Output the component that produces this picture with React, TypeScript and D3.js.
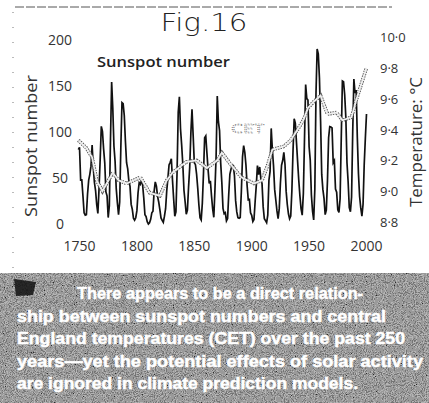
import React from 'react';
import * as d3 from 'd3';

// annual sunspot numbers, 1749 .. 2000
const sunStartYear = 1749;
const sunspots = [
    80.9, 83.4, 47.7, 47.8, 30.7, 12.2, 9.6, 10.2, 32.4, 47.6, 54.0, 62.9, 85.9, 61.2, 45.1, 36.4, 20.9, 11.4, 37.8, 69.8,
    106.1, 100.8, 81.6, 66.5, 34.8, 30.6, 7.0, 19.8, 92.5, 154.4, 125.9, 84.8, 68.1, 38.5, 22.8, 10.2, 24.1, 82.9, 132.0,
    130.9, 118.1, 89.9, 66.6, 60.0, 46.9, 41.0, 21.3, 16.0, 6.4, 4.1, 6.8, 14.5, 34.0, 45.0, 43.1, 47.5, 42.2, 28.1, 10.1,
    8.1, 2.5, 0.0, 1.4, 5.0, 12.2, 13.9, 35.4, 45.8, 41.1, 30.1, 23.9, 15.6, 6.6, 4.0, 1.8, 8.5, 16.6, 36.3, 49.6, 64.2,
    67.0, 70.9, 47.8, 27.5, 8.5, 13.2, 56.9, 121.5, 138.3, 103.2, 85.7, 64.6, 36.7, 24.2, 10.7, 15.0, 40.1, 61.5, 98.5,
    124.7, 96.3, 66.6, 64.5, 54.1, 39.0, 20.6, 6.7, 4.3, 22.7, 54.8, 93.8, 95.8, 77.2, 59.1, 44.0, 47.0, 30.5, 16.3, 7.3,
    37.6, 74.0, 139.0, 111.2, 101.6, 66.2, 44.7, 17.0, 11.3, 12.4, 3.4, 6.0, 32.3, 54.3, 59.7, 63.7, 63.5, 52.2, 25.4,
    13.1, 6.8, 6.3, 7.1, 35.6, 73.0, 85.1, 78.0, 64.0, 41.8, 26.2, 26.7, 12.1, 9.5, 2.7, 5.0, 24.4, 42.0, 63.5, 53.8, 62.0,
    48.5, 43.9, 18.6, 5.7, 3.6, 1.4, 9.6, 47.4, 57.1, 103.9, 80.6, 63.6, 37.6, 26.1, 14.2, 5.8, 16.7, 44.3, 63.9, 69.0,
    77.8, 64.9, 35.7, 21.2, 11.1, 5.7, 8.7, 36.1, 79.7, 114.4, 109.6, 88.8, 67.8, 47.5, 30.6, 16.3, 9.6, 33.2, 92.6,
    151.6, 136.3, 134.7, 83.9, 69.4, 31.5, 13.9, 4.4, 38.0, 141.7, 190.2, 184.8, 159.0, 112.3, 53.9, 37.6, 27.9, 10.2,
    15.1, 47.0, 93.8, 105.9, 105.5, 104.5, 66.6, 68.9, 38.0, 34.5, 15.5, 12.6, 27.5, 92.5, 155.4, 154.6, 140.5, 115.9,
    66.6, 45.9, 17.9, 13.4, 29.4, 100.2, 157.6, 142.6, 145.7, 94.3, 54.6, 29.9, 17.5, 8.6, 21.5, 64.3, 93.3, 119.6,
];

// central England temperature (smoothed)
const cetYears = [
    1749, 1756, 1761, 1765, 1770, 1779, 1784, 1791, 1803, 1811, 1820, 1826, 1831, 1843, 1852, 1861, 1870, 1874, 1881,
    1891, 1902, 1909, 1914, 1918, 1928, 1934, 1940, 1945, 1949, 1954, 1960, 1966, 1974, 1979, 1987, 1991, 2000,
];
const cetTemps = [
    9.33, 9.28, 9.22, 9.07, 9.0, 9.12, 9.07, 9.05, 9.09, 8.99, 8.97, 9.07, 9.12, 9.19, 9.2, 9.15, 9.2, 9.25, 9.18, 9.09,
    9.05, 9.07, 9.17, 9.27, 9.29, 9.33, 9.4, 9.46, 9.54, 9.58, 9.62, 9.5, 9.51, 9.46, 9.48, 9.59, 9.8,
];

const yearTicks = [1750, 1800, 1850, 1900, 1950, 2000];
const sunTicks = [0, 50, 100, 150, 200];
const tempTicks = [8.8, 9.0, 9.2, 9.4, 9.6, 9.8, 10.0];

const captionLines = [
    'There appears to be a direct relation-',
    'ship between sunspot numbers and central',
    'England temperatures (CET) over the past 250',
    'years\u2014yet the potential effects of solar activity',
    'are ignored in climate prediction models.',
];

const App = () => {
    const width = 429;
    const height = 403;

    const x = d3.scaleLinear().domain([1750, 2000]).range([79.5, 366.5]);
    const ySun = d3.scaleLinear().domain([0, 200]).range([224, 40]);
    const yTemp = d3.scaleLinear().domain([8.8, 10.0]).range([222, 37]);

    const sunLine = d3
        .line<number>()
        .x((d, i) => x(sunStartYear + i))
        .y((d) => ySun(d));

    const cetData = cetYears.map((yr, i) => [yr, cetTemps[i]] as [number, number]);
    const cetLine = d3
        .line<[number, number]>()
        .x((d) => x(d[0]))
        .y((d) => yTemp(d[1]));

    const tickFont = '"Open Sans", "DejaVu Sans", sans-serif';
    const fmtTemp = (t: number) => t.toFixed(1).replace('.', '\u00b7');

    // caption geometry
    const capLeft = [77, 17, 17, 17, 17];
    const capWidth = [286, 369, 388, 406, 341];

    return (
        <svg width={width} height={height} style={{position: 'absolute', left: 0, top: 0, background: '#fff'}}>
            <defs>
                <filter id="grain" x="0" y="0" width="100%" height="100%">
                    <feTurbulence type="fractalNoise" baseFrequency="1.1" numOctaves="2" seed="7" result="t" />
                    <feColorMatrix
                        in="t"
                        type="matrix"
                        values="0 0 0 1 0  0 0 0 1 0  0 0 0 1 0  0 0 0 0 1"
                        result="g"
                    />
                    <feComponentTransfer in="g">
                        <feFuncR type="discrete" tableValues="0 0.2 0.5 0.8 1" />
                        <feFuncG type="discrete" tableValues="0 0.2 0.5 0.8 1" />
                        <feFuncB type="discrete" tableValues="0 0.2 0.5 0.8 1" />
                    </feComponentTransfer>
                </filter>
            </defs>

            {/* scan edges */}
            <line x1={15} x2={392} y1={7} y2={7} stroke="#555" strokeWidth={1} strokeDasharray="9,2" />
            <line x1={13} x2={13} y1={12} y2={268} stroke="#777" strokeWidth={1} strokeDasharray="1,14" />

            {/* title */}
            <text
                x={204}
                y={31}
                textAnchor="middle"
                fontFamily='"DejaVu Sans", sans-serif'
                fontWeight={300}
                fontSize={24}
                fill="#222"
                textLength={87}
                lengthAdjust="spacingAndGlyphs"
            >
                Fig.16
            </text>

            {/* left axis */}
            {sunTicks.map((t) => (
                <text key={t} x={60} y={ySun(t) + 5} textAnchor="middle" fontFamily={tickFont} fontSize={14} fill="#333">
                    {t}
                </text>
            ))}
            <text
                transform={`translate(37,146) rotate(-90)`}
                textAnchor="middle"
                fontFamily={tickFont}
                fontSize={16}
                fill="#333"
                textLength={142}
                lengthAdjust="spacingAndGlyphs"
            >
                Sunspot number
            </text>

            {/* right axis */}
            {tempTicks.map((t) => (
                <text key={t} x={380} y={yTemp(t) + 5} textAnchor="start" fontFamily={tickFont} fontSize={13} fill="#333">
                    {fmtTemp(t)}
                </text>
            ))}
            <text
                transform={`translate(422,142) rotate(-90)`}
                textAnchor="middle"
                fontFamily={tickFont}
                fontSize={16}
                fill="#333"
                textLength={130}
                lengthAdjust="spacingAndGlyphs"
            >
                Temperature: °C
            </text>

            {/* bottom axis */}
            {yearTicks.map((t) => (
                <text key={t} x={x(t)} y={251} textAnchor="middle" fontFamily={tickFont} fontSize={14} fill="#333">
                    {t}
                </text>
            ))}

            {/* series */}
            <path d={sunLine(sunspots) || ''} fill="none" stroke="#111" strokeWidth={1.7} strokeLinejoin="miter" />
            <path d={cetLine(cetData) || ''} fill="none" stroke="#555" strokeWidth={3.6} strokeDasharray="1.5,1" />
            <path d={cetLine(cetData) || ''} fill="none" stroke="#eee" strokeWidth={1.8} />

            {/* in-plot labels */}
            <text
                x={97}
                y={67}
                fontFamily={tickFont}
                fontWeight={600}
                fontSize={15}
                fill="#222"
                textLength={133}
                lengthAdjust="spacingAndGlyphs"
            >
                Sunspot number
            </text>
            <text
                x={231}
                y={133}
                fontFamily={tickFont}
                fontSize={13}
                fill="#fff"
                stroke="#666"
                strokeWidth={0.6}
                strokeDasharray="1,1"
                textLength={33}
                lengthAdjust="spacingAndGlyphs"
            >
                CET
            </text>

            {/* caption */}
            <rect x={0} y={273} width={width} height={height - 273} fill="#6a6a6a" />
            <rect x={0} y={273} width={width} height={height - 273} filter="url(#grain)" opacity={0.6} />
            <path d="M14,279 L36,282 L33,295 L16,296 Z" fill="#111" opacity={0.85} />
            {captionLines.map((line, i) => (
                <text
                    key={i}
                    x={capLeft[i]}
                    y={299 + i * 22.5}
                    fontFamily='"Liberation Sans", Arial, sans-serif'
                    fontWeight={700}
                    fontSize={17}
                    fill="#fff"
                    stroke="#fff"
                    strokeWidth={0.5}
                    textLength={capWidth[i]}
                    lengthAdjust="spacingAndGlyphs"
                >
                    {line}
                </text>
            ))}
        </svg>
    );
};

export default App;
